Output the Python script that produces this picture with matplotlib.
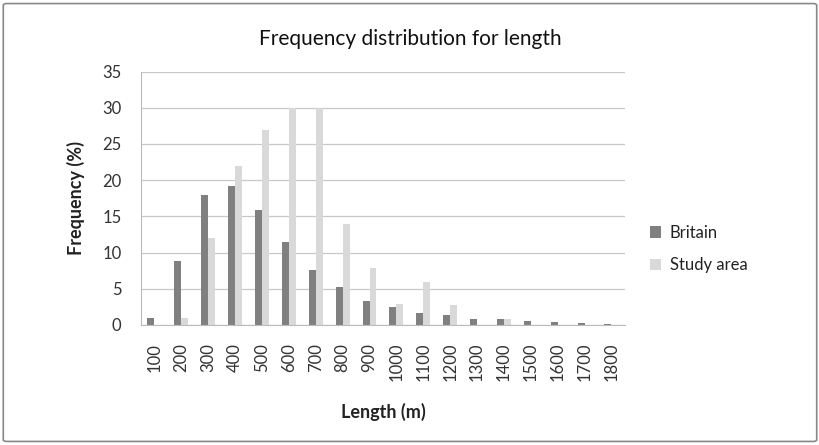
import numpy as np
import matplotlib.pyplot as plt
from matplotlib.patches import FancyBboxPatch

plt.rcParams["font.family"] = ["Lato", "DejaVu Sans"]

lengths = ["100", "200", "300", "400", "500", "600", "700", "800", "900",
           "1000", "1100", "1200", "1300", "1400", "1500", "1600", "1700", "1800"]
britain = [1.0, 8.8, 17.9, 19.2, 15.9, 11.4, 7.6, 5.2, 3.3,
           2.5, 1.6, 1.3, 0.8, 0.8, 0.55, 0.4, 0.25, 0.15]
study_area = [0.0, 1.0, 12.0, 22.0, 27.0, 30.0, 30.0, 13.9, 7.9,
              2.9, 5.9, 2.8, 0.0, 0.8, 0.0, 0.0, 0.0, 0.0]

fig = plt.figure(figsize=(8.2, 4.45), dpi=100)
ax = fig.add_axes([0.172, 0.270, 0.590, 0.569])

x = np.arange(len(lengths))
w = 0.26
ax.bar(x - w / 2, britain, w, color="#808080", label="Britain")
ax.bar(x + w / 2, study_area, w, color="#d9d9d9", label="Study area")

ax.set_xlim(-0.5, len(lengths) - 0.5)
ax.set_ylim(0, 35)
ax.set_yticks(range(0, 36, 5))
ax.set_xticks(x)
ax.set_xticklabels(lengths, rotation=90, fontsize=12, color="#333333")
ax.tick_params(axis="y", labelsize=12, labelcolor="#333333", length=0, pad=14)
ax.tick_params(axis="x", length=0, pad=13)
ax.yaxis.grid(True, color="#c8c8c8", linewidth=0.9)
ax.set_axisbelow(True)
for s in ["top", "right"]:
    ax.spines[s].set_visible(False)
for s in ["left", "bottom"]:
    ax.spines[s].set_color("#bbbbbb")

ax.set_ylabel("Frequency (%)", fontsize=13, fontweight="bold", color="#222222")
ax.yaxis.set_label_coords(-0.115, 0.5)
ax.set_xlabel("Length (m)", fontsize=13, fontweight="bold", color="#222222")
ax.xaxis.set_label_coords(0.5, -0.31)
fig.text(0.5, 0.912, "Frequency distribution for length", ha="center", va="center",
         fontsize=15, color="#111111")

ax.legend(loc="center left", bbox_to_anchor=(1.02, 0.3), frameon=False, fontsize=12,
          handlelength=0.7, handleheight=0.7, handletextpad=0.5, labelspacing=1.0,
          labelcolor="#222222")

fig.patches.append(FancyBboxPatch((0.004, 0.008), 0.992, 0.984,
                                  boxstyle="round,pad=0,rounding_size=0.004",
                                  transform=fig.transFigure, fill=False,
                                  edgecolor="#888888", linewidth=1.2))

fig.savefig("out.png", dpi=100)
